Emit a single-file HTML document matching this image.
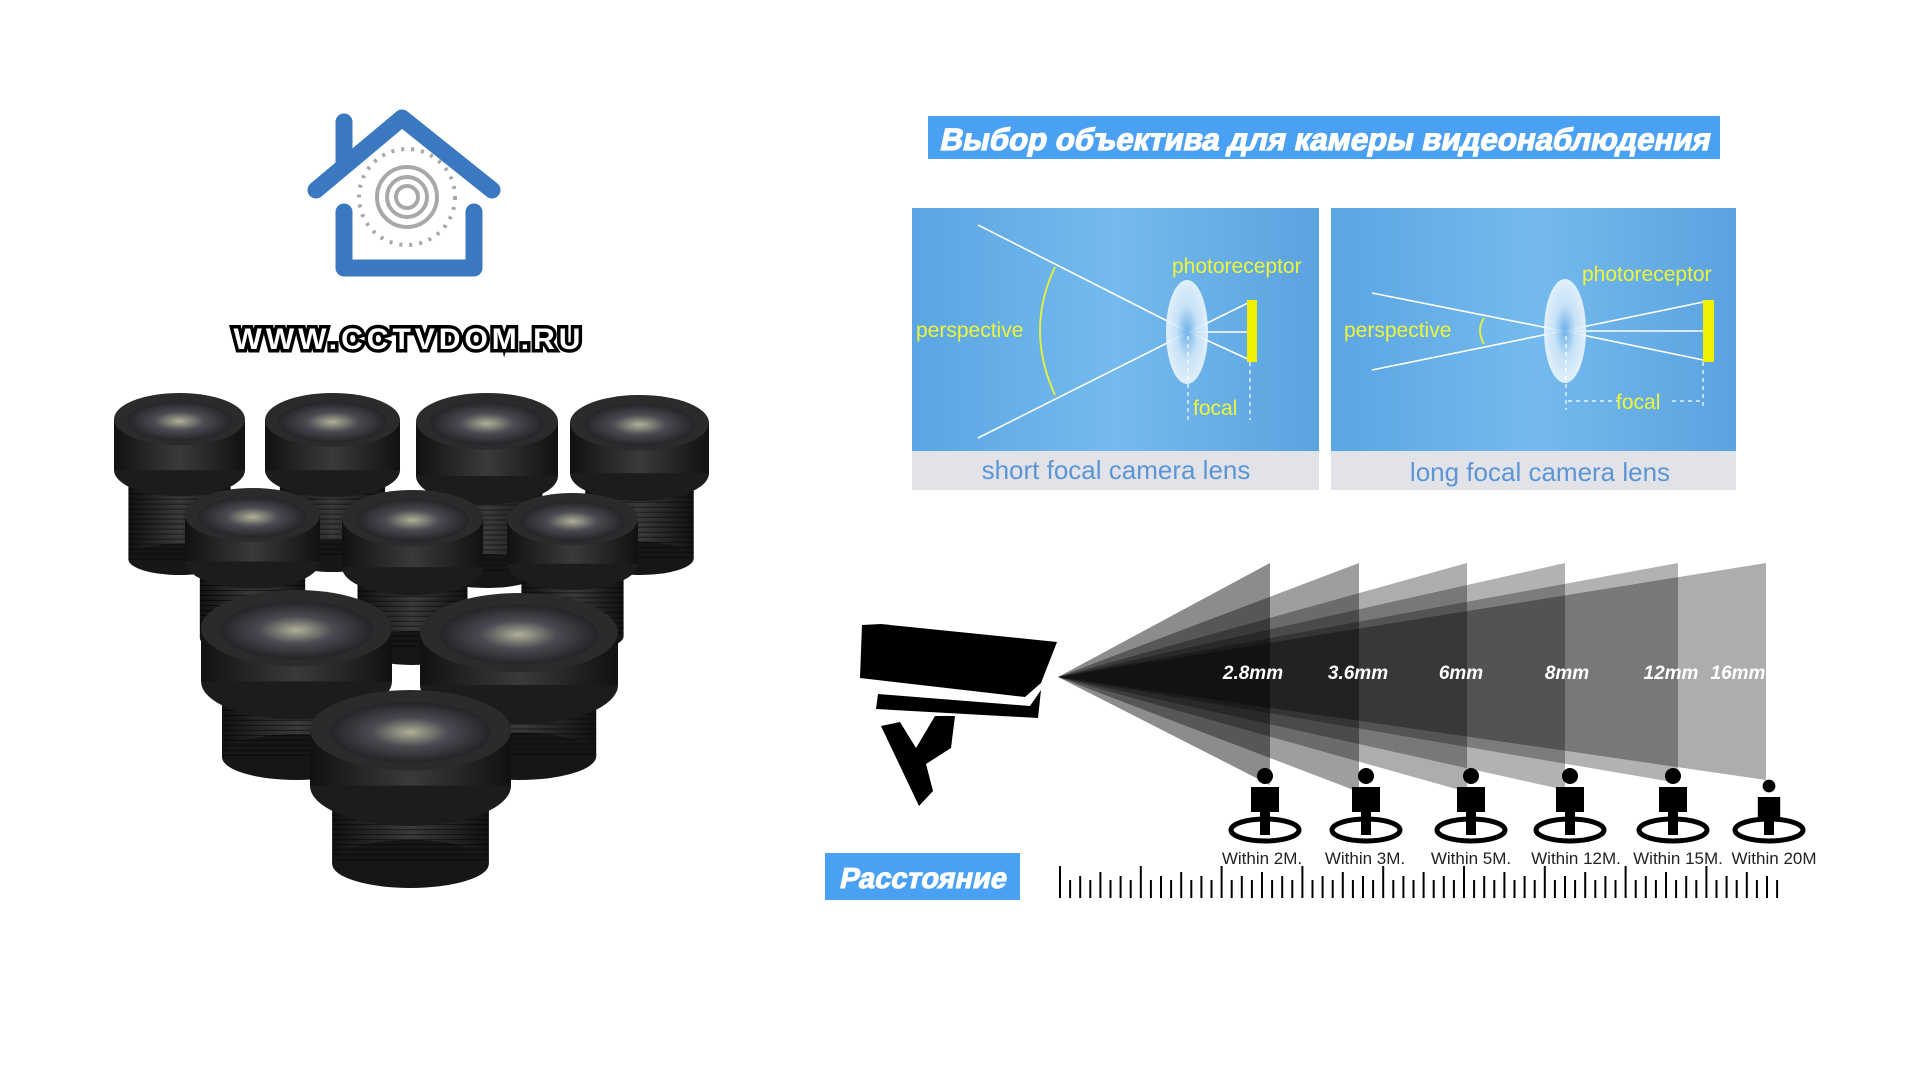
<!DOCTYPE html>
<html><head><meta charset="utf-8"><style>
html,body{margin:0;padding:0;background:#fff;}
body{width:1920px;height:1080px;overflow:hidden;position:relative;font-family:"Liberation Sans",sans-serif;}
svg{position:absolute;left:0;top:0;}
</style></head><body>
<svg id="s" width="1920" height="1080" viewBox="0 0 1920 1080" xmlns="http://www.w3.org/2000/svg">
<defs>
<linearGradient id="pbg" x1="0" x2="1"><stop offset="0" stop-color="#5aa5e3"/><stop offset="0.5" stop-color="#74baee"/><stop offset="1" stop-color="#5ba3e0"/></linearGradient>
<radialGradient id="lensg"><stop offset="0" stop-color="#6aaee8"/><stop offset="0.5" stop-color="#cfe6f8"/><stop offset="1" stop-color="#eef6fc"/></radialGradient>
<radialGradient id="glass" cx="0.5" cy="0.5" r="0.6"><stop offset="0" stop-color="#b0b098"/><stop offset="0.4" stop-color="#4a4a52"/><stop offset="1" stop-color="#151518"/></radialGradient>
<linearGradient id="body" x1="0" x2="1"><stop offset="0" stop-color="#111"/><stop offset="0.5" stop-color="#3a3a3a"/><stop offset="1" stop-color="#111"/></linearGradient>
</defs>

<g fill="none" stroke="#3a78c0" stroke-width="17" stroke-linecap="round" stroke-linejoin="round">
<polyline points="316,190 402,118 492,190"/>
<line x1="344" y1="166" x2="344" y2="122"/>
<polyline points="344,212 344,268 474,268 474,212"/>
</g>
<g fill="none" stroke="#a8a8a8" stroke-width="4">
<circle cx="407" cy="197" r="48" stroke-dasharray="3 7"/>
<circle cx="407" cy="197" r="30"/><circle cx="407" cy="197" r="20"/><circle cx="407" cy="197" r="11"/>
</g>
<text x="409" y="349" text-anchor="middle" font-size="30" font-weight="bold" fill="#fff" stroke="#000" stroke-width="7" paint-order="stroke" letter-spacing="4">WWW.CCTVDOM.RU</text>
<g id="lenses"></g>

<rect x="928" y="116" width="792" height="43" fill="#4aa0f3"/>
<g transform="translate(1324,150) skewX(-12)"><text x="0" y="0" text-anchor="middle" font-size="31" font-weight="bold" fill="#fff" stroke="#fff" stroke-width="1.2" textLength="770" lengthAdjust="spacingAndGlyphs">Выбор объектива для камеры видеонаблюдения</text></g>

<rect x="912" y="208" width="407" height="243" fill="url(#pbg)"/>
<rect x="912" y="451" width="407" height="39" fill="#e2e3e8"/>
<g stroke="#fff" stroke-width="1.6" fill="none">
<polyline points="978,225 1189,332 1252,301"/><polyline points="978,438 1189,332 1252,361"/><line x1="1189" y1="332" x2="1252" y2="332"/>
</g>
<ellipse cx="1187" cy="332" rx="21" ry="52" fill="url(#lensg)" opacity="0.9"/>
<rect x="1247" y="300" width="10" height="62" fill="#f0f000"/>
<g stroke="#fff" stroke-width="1.2" stroke-dasharray="4 4"><line x1="1188" y1="336" x2="1188" y2="420"/><line x1="1250" y1="362" x2="1250" y2="420"/></g>
<path d="M1055,267 Q1025,330 1055,395" fill="none" stroke="#e0f040" stroke-width="2"/>
<g fill="#eef53a" font-size="21"><text x="1172" y="273">photoreceptor</text><text x="916" y="337">perspective</text><text x="1193" y="415">focal</text></g>
<text x="1116" y="479" text-anchor="middle" font-size="26" fill="#5b95d4">short focal camera lens</text>

<rect x="1331" y="208" width="405" height="243" fill="url(#pbg)"/>
<rect x="1331" y="451" width="405" height="39" fill="#e2e3e8"/>
<g stroke="#fff" stroke-width="1.6" fill="none">
<polyline points="1372,293 1563,331 1708,361"/><polyline points="1372,370 1563,331 1708,301"/><line x1="1563" y1="331" x2="1708" y2="331"/>
</g>
<ellipse cx="1565" cy="331" rx="21" ry="52" fill="url(#lensg)" opacity="0.9"/>
<rect x="1703" y="300" width="11" height="62" fill="#f0f000"/>
<g stroke="#fff" stroke-width="1.2" stroke-dasharray="4 4"><line x1="1566" y1="336" x2="1566" y2="410"/><line x1="1703" y1="362" x2="1703" y2="410"/><line x1="1568" y1="401" x2="1618" y2="401"/><line x1="1672" y1="401" x2="1700" y2="401"/></g>
<path d="M1484,318 Q1476,330 1484,344" fill="none" stroke="#e0f040" stroke-width="2"/>
<g fill="#eef53a" font-size="21"><text x="1582" y="281">photoreceptor</text><text x="1344" y="337">perspective</text><text x="1616" y="409">focal</text></g>
<text x="1540" y="481" text-anchor="middle" font-size="26" fill="#5b95d4">long focal camera lens</text>

<g id="beams"></g>
<g fill="#fff" font-size="19" font-weight="bold" font-style="italic" text-anchor="middle">
<text x="1253" y="679">2.8mm</text><text x="1358" y="679">3.6mm</text><text x="1461" y="679">6mm</text><text x="1567" y="679">8mm</text><text x="1671" y="679">12mm</text><text x="1738" y="679">16mm</text>
</g>
<g fill="#000">
<polygon points="862,625 881,624 1057,642 1041,683 1025,697 860,678"/>
<polygon points="878,694 1030,706 1041,690 1038,718 876,709"/>
<polygon points="881,726 900,722 916,748 935,716 955,716 951,748 926,764 933,791 919,806"/>
</g>
<g id="people"></g>
<g font-size="17" fill="#222" text-anchor="middle">
<text x="1262" y="864">Within 2M.</text><text x="1365" y="864">Within 3M.</text><text x="1471" y="864">Within 5M.</text><text x="1576" y="864">Within 12M.</text><text x="1678" y="864">Within 15M.</text><text x="1774" y="864">Within 20M</text>
</g>
<rect x="825" y="853" width="195" height="47" fill="#4aa0f3"/>
<g transform="translate(922,888) skewX(-12)"><text x="0" y="0" text-anchor="middle" font-size="29" font-weight="bold" fill="#fff" stroke="#fff" stroke-width="1">Расстояние</text></g>
<g id="ruler" stroke="#000" stroke-width="2"></g>
</svg>
<script>
var NS="http://www.w3.org/2000/svg";
function el(p,t,a){var e=document.createElementNS(NS,t);for(var k in a)e.setAttribute(k,a[k]);p.appendChild(e);return e;}
var g=document.getElementById('beams');
var xs=[1766,1678,1565,1467,1359,1270],bots=[780,783,790,792,792,785],ops=[0.32,0.3,0.3,0.32,0.38,0.45];
for(var i=0;i<6;i++){el(g,'polygon',{points:"1058,677 "+xs[i]+",563 "+xs[i]+","+bots[i],fill:"#000","fill-opacity":ops[i]});}
var pp=document.getElementById('people');
var px=[1265,1366,1471,1570,1673,1769];
for(var i=0;i<6;i++){var x=px[i],s=(i==5?0.8:1),off=(i==5?10:0);
el(pp,'ellipse',{cx:x,cy:830,rx:34,ry:11,fill:"none",stroke:"#000","stroke-width":5});
el(pp,'circle',{cx:x,cy:776+off,r:8*s,fill:"#000"});
el(pp,'rect',{x:x-14*s,y:787+off,width:28*s,height:(25-off*0.3),fill:"#000"});
el(pp,'rect',{x:x-5,y:805,width:10,height:30,fill:"#000"});}
var r=document.getElementById('ruler');
for(var i=0;i<=71;i++){var x=1060+i*10.1;var h=(i%8==0)?32:(i%4==0?26:(i%2==0?22:18));
el(r,'line',{x1:x,y1:898-h,x2:x,y2:898});}
var L=document.getElementById('lenses');
var lens=[[114,393,245,575],[265,393,400,572],[416,393,558,588],[570,395,709,575],[185,488,320,654],[342,490,483,665],[507,493,638,652],[201,590,392,780],[420,593,618,780],[310,690,511,888]];
lens.forEach(function(b){var x0=b[0],y0=b[1],x1=b[2],y1=b[3],w=x1-x0,cx=(x0+x1)/2,rx=w/2,ry=w*0.2,h=y1-y0;
var ct=y0+ry,ch=h*0.28,bw=w*0.78;
el(L,'rect',{x:cx-bw/2,y:ct+ch,width:bw,height:y1-ry*0.6-(ct+ch),fill:"url(#body)"});
el(L,'ellipse',{cx:cx,cy:y1-ry*0.6,rx:bw/2,ry:ry*0.6,fill:"#161616"});
for(var yy=ct+ch+4;yy<y1-ry*0.6;yy+=5)el(L,'line',{x1:cx-bw/2,y1:yy,x2:cx+bw/2,y2:yy,stroke:"#000","stroke-width":1,opacity:0.5});
el(L,'ellipse',{cx:cx,cy:ct+ch,rx:rx,ry:ry,fill:"#1c1c1c"});
el(L,'rect',{x:x0,y:ct,width:w,height:ch,fill:"url(#body)"});
el(L,'ellipse',{cx:cx,cy:ct,rx:rx,ry:ry,fill:"#2b2b2b"});
el(L,'ellipse',{cx:cx,cy:ct+2,rx:rx*0.8,ry:ry*0.75,fill:"url(#glass)"});});
</script>
</body></html>
